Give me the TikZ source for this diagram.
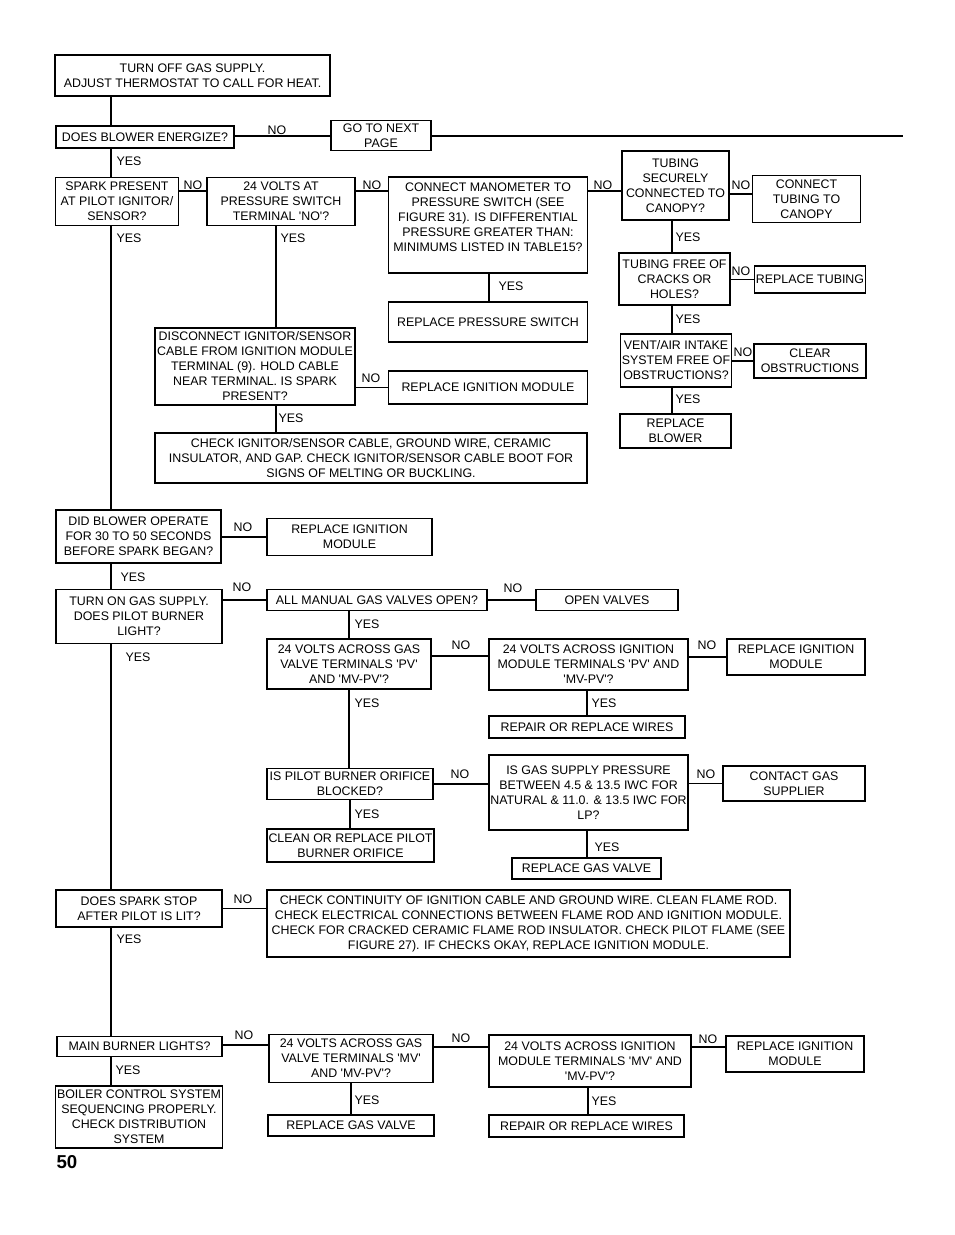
\documentclass[tikz,border=0pt]{standalone}
\usepackage{fontspec}
\setmainfont{Liberation Sans}
\newcommand{\q}{\textquotesingle}

\begin{document}
\begin{tikzpicture}[x=0.75pt,y=-0.75pt,line width=0.9pt,
	every node/.style={font=\fontsize{9.3}{11.25}\selectfont}]
	\tikzstyle{box}=[draw,align=center,inner sep=1pt];
	\tikzstyle{lab}=[inner sep=0pt];
	\tikzset{sz/.style 2 args={minimum width=#1*0.75pt,minimum height=#2*0.75pt}}

	\useasboundingbox (0,0) rectangle (954,1235);

	% boxes, top part
	\node[box,sz={275}{41}] (start)    at (192.5,75.5) {TURN OFF GAS SUPPLY.\\ ADJUST THERMOSTAT TO CALL FOR HEAT.};
	\node[box,sz={178}{22}] (blower)   at (145,137)    {DOES BLOWER ENERGIZE?};
	\node[box,sz={100}{30}] (nextpage) at (381,135.5)  {GO TO NEXT\\ PAGE};
	\node[box,sz={123}{48}] (spark)    at (117,201.5)  {SPARK PRESENT\\ AT PILOT IGNITOR/\\ SENSOR?};
	\node[box,sz={148}{48}] (psw)      at (281,201.5)  {24 VOLTS AT\\ PRESSURE SWITCH\\ TERMINAL \q NO\q ?};
	\node[box,sz={199}{96}] (mano)     at (488,225)    {CONNECT MANOMETER TO\\ PRESSURE SWITCH (SEE\\ FIGURE 31). IS DIFFERENTIAL\\ PRESSURE GREATER THAN:\\ MINIMUMS LISTED IN TABLE15?\\ \mbox{}};
	\node[box,sz={199}{40}] (replps)   at (488,322)    {REPLACE PRESSURE SWITCH};
	\node[box,sz={107}{69}] (tubing)   at (675.5,185.5) {TUBING\\ SECURELY\\ CONNECTED TO\\ CANOPY?};
	\node[box,sz={108}{47}] (conntube) at (806.5,199)  {CONNECT\\ TUBING TO\\ CANOPY};
	\node[box,sz={111}{52}] (tubefree) at (674.5,279)  {TUBING FREE OF\\ CRACKS OR\\ HOLES?};
	\node[box,sz={110}{27}] (repltube) at (810,279.5)  {REPLACE TUBING};
	\node[box,sz={111}{53}] (vent)     at (676,360.5)  {VENT/AIR INTAKE\\ SYSTEM FREE OF\\ OBSTRUCTIONS?};
	\node[box,sz={112}{34}] (clearobs) at (810,361)    {CLEAR\\ OBSTRUCTIONS};
	\node[box,sz={111}{34}] (replblow) at (675.5,431)  {REPLACE\\ BLOWER};
	\node[box,sz={200}{77}] (disc)     at (255,366.5)  {DISCONNECT IGNITOR/SENSOR\\ CABLE FROM IGNITION MODULE\\ TERMINAL (9). HOLD CABLE\\ NEAR TERMINAL. IS SPARK\\ PRESENT?};
	\node[box,sz={199}{33}] (replim1)  at (488,387.5)  {REPLACE IGNITION MODULE};
	\node[box,sz={432}{50}] (chkign)   at (371,458)    {CHECK IGNITOR/SENSOR CABLE, GROUND WIRE, CERAMIC\\ INSULATOR, AND GAP. CHECK IGNITOR/SENSOR CABLE BOOT FOR\\ SIGNS OF MELTING OR BUCKLING.};

	% boxes, middle part
	\node[box,sz={165}{53}] (didblow)  at (138.5,536.5) {DID BLOWER OPERATE\\ FOR 30 TO 50 SECONDS\\ BEFORE SPARK BEGAN?};
	\node[box,sz={165}{37}] (replim2)  at (349.5,537)  {REPLACE IGNITION\\ MODULE};
	\node[box,sz={166}{54}] (gason)    at (139,616.5)  {TURN ON GAS SUPPLY.\\ DOES PILOT BURNER\\ LIGHT?};
	\node[box,sz={220}{21}] (manual)   at (377,600)    {ALL MANUAL GAS VALVES OPEN?};
	\node[box,sz={142}{21}] (openv)    at (607,600)    {OPEN VALVES};
	\node[box,sz={164}{50}] (gvpv)     at (349,664)    {24 VOLTS ACROSS GAS\\ VALVE TERMINALS \q PV\q\\ AND \q MV-PV\q ?};
	\node[box,sz={199}{51}] (impv)     at (588.5,664.5) {24 VOLTS ACROSS IGNITION\\ MODULE TERMINALS \q PV\q{} AND\\ \q MV-PV\q ?};
	\node[box,sz={138}{36}] (replim3)  at (796,657)    {REPLACE IGNITION\\ MODULE};
	\node[box,sz={196}{22}] (wires1)   at (587,727)    {REPAIR OR REPLACE WIRES};
	\node[box,sz={166}{31}] (orif)     at (350,784)    {IS PILOT BURNER ORIFICE\\ BLOCKED?};
	\node[box,sz={199}{75}] (gasp)     at (588.5,792.5) {IS GAS SUPPLY PRESSURE\\ BETWEEN 4.5 \& 13.5 IWC FOR\\ NATURAL \& 11.0. \& 13.5 IWC FOR\\ LP?};
	\node[box,sz={142}{35}] (contact)  at (794,783.5)  {CONTACT GAS\\ SUPPLIER};
	\node[box,sz={167}{33}] (clean)    at (350.5,845.5) {CLEAN OR REPLACE PILOT\\ BURNER ORIFICE};
	\node[box,sz={149}{21}] (replgv1)  at (586.5,868.5) {REPLACE GAS VALVE};

	% boxes, bottom part
	\node[box,sz={166}{37}] (sparkstop) at (139,908.5) {DOES SPARK STOP\\ AFTER PILOT IS LIT?};
	\node[box,sz={523}{67}] (chkcont)  at (528.5,923.5) {CHECK CONTINUITY OF IGNITION CABLE AND GROUND WIRE. CLEAN FLAME ROD.\\ CHECK ELECTRICAL CONNECTIONS BETWEEN FLAME ROD AND IGNITION MODULE.\\ CHECK FOR CRACKED CERAMIC FLAME ROD INSULATOR. CHECK PILOT FLAME (SEE\\ FIGURE 27). IF CHECKS OKAY, REPLACE IGNITION MODULE.};
	\node[box,sz={165}{20}] (mainb)    at (139.5,1046.5) {MAIN BURNER LIGHTS?};
	\node[box,sz={164}{48}] (gvmv)     at (351,1058.5) {24 VOLTS ACROSS GAS\\ VALVE TERMINALS \q MV\q\\ AND \q MV-PV\q ?};
	\node[box,sz={202}{52}] (immv)     at (590,1061)   {24 VOLTS ACROSS IGNITION\\ MODULE TERMINALS \q MV\q{} AND\\ \q MV-PV\q ?};
	\node[box,sz={138}{36}] (replim4)  at (795,1054)   {REPLACE IGNITION\\ MODULE};
	\node[box,sz={164}{62}] (boiler)   at (139,1117)   {BOILER CONTROL SYSTEM\\ SEQUENCING PROPERLY.\\ CHECK DISTRIBUTION\\ SYSTEM};
	\node[box,sz={166}{21}] (replgv2)  at (351,1125.5) {REPLACE GAS VALVE};
	\node[box,sz={195}{22}] (wires2)   at (586.5,1126) {REPAIR OR REPLACE WIRES};
	\node[font=\bfseries\fontsize{14}{16}\selectfont] (pagenum) at (67,1162) {50};

	% levels of the connectors
	\coordinate (tr) at (111,0);
	\coordinate (v1) at (672,0);
	\coordinate (v2) at (489,0);
	\coordinate (v3) at (276,0);
	\coordinate (v4) at (587,0);
	\coordinate (v5) at (588,0);
	\coordinate (h1) at (0,136);
	\coordinate (h2) at (0,191);
	\coordinate (h3) at (0,194);
	\coordinate (h4) at (0,656);
	\coordinate (h5) at (0,1045);
	\coordinate (h6) at (0,1047);
	\coordinate (pg) at (903,136);

	% main line
	\draw (start.south -| tr)     -- (blower.north -| tr);
	\draw (blower.south -| tr)    -- (spark.north -| tr);
	\draw (spark.south -| tr)     -- (didblow.north -| tr);
	\draw (didblow.south -| tr)   -- (gason.north -| tr);
	\draw (gason.south -| tr)     -- (sparkstop.north -| tr);
	\draw (sparkstop.south -| tr) -- (mainb.north -| tr);
	\draw (mainb.south -| tr)     -- (boiler.north -| tr);

	% top part
	\draw (blower.east |- h1) -- (nextpage.west |- h1);
	\draw (nextpage.east |- pg) -- (pg);
	\draw (spark.east |- h2) -- (psw.west |- h2);
	\draw (psw.east |- h2) -- (mano.west |- h2);
	\draw (mano.east |- h2) -- (tubing.west |- h2);
	\draw (tubing.east |- h3) -- (conntube.west |- h3);
	\draw (tubefree.east |- repltube.west) -- (repltube.west);
	\draw (vent.east |- clearobs.west) -- (clearobs.west);
	\draw (tubing.south -| v1) -- (tubefree.north -| v1);
	\draw (tubefree.south -| v1) -- (vent.north -| v1);
	\draw (vent.south -| v1) -- (replblow.north -| v1);
	\draw (mano.south -| v2) -- (replps.north -| v2);
	\draw (psw.south -| v3) -- (disc.north -| v3);
	\draw (disc.south -| v3) -- (chkign.north -| v3);
	\draw (disc.east |- replim1.west) -- (replim1.west);

	% middle part
	\draw (didblow.east |- replim2.west) -- (replim2.west);
	\draw (gason.east |- manual.west) -- (manual.west);
	\draw (manual.east) -- (openv.west);
	\draw (manual.south -| gvpv.north) -- (gvpv.north);
	\draw (gvpv.east |- h4) -- (impv.west |- h4);
	\draw (impv.east |- replim3.west) -- (replim3.west);
	\draw (impv.south -| v4) -- (wires1.north -| v4);
	\draw (gvpv.south) -- (gvpv.south |- orif.north);
	\draw (orif.east) -- (gasp.west |- orif.east);
	\draw (gasp.east |- contact.west) -- (contact.west);
	\draw (orif.south) -- (orif.south |- clean.north);
	\draw (gasp.south -| v4) -- (replgv1.north -| v4);

	% bottom part
	\draw (sparkstop.east) -- (chkcont.west |- sparkstop.east);
	\draw (mainb.east |- h5) -- (gvmv.west |- h5);
	\draw (gvmv.east |- h6) -- (immv.west |- h6);
	\draw (immv.east |- h6) -- (replim4.west |- h6);
	\draw (gvmv.south) -- (gvmv.south |- replgv2.north);
	\draw (immv.south -| v5) -- (wires2.north -| v5);

	% labels
	\node[lab] (no1)  at (277,130)  {NO};
	\node[lab] (no2)  at (193,185)  {NO};
	\node[lab] (no3)  at (372,185)  {NO};
	\node[lab] (no4)  at (603,185)  {NO};
	\node[lab] (no5)  at (741,185)  {NO};
	\node[lab] (no6)  at (741,271)  {NO};
	\node[lab] (no7)  at (743,352)  {NO};
	\node[lab] (no8)  at (371,378)  {NO};
	\node[lab] (no9)  at (243,527)  {NO};
	\node[lab] (no10) at (242,587)  {NO};
	\node[lab] (no11) at (513,588)  {NO};
	\node[lab] (no12) at (461,645)  {NO};
	\node[lab] (no13) at (707,645)  {NO};
	\node[lab] (no14) at (460,774)  {NO};
	\node[lab] (no15) at (706,774)  {NO};
	\node[lab] (no16) at (243,899)  {NO};
	\node[lab] (no17) at (244,1035) {NO};
	\node[lab] (no18) at (461,1038) {NO};
	\node[lab] (no19) at (708,1039) {NO};
	\node[lab] (yes1)  at (129,161)  {YES};
	\node[lab] (yes2)  at (129,238)  {YES};
	\node[lab] (yes3)  at (293,238)  {YES};
	\node[lab] (yes4)  at (511,286)  {YES};
	\node[lab] (yes5)  at (688,237)  {YES};
	\node[lab] (yes6)  at (688,319)  {YES};
	\node[lab] (yes7)  at (688,399)  {YES};
	\node[lab] (yes8)  at (291,418)  {YES};
	\node[lab] (yes9)  at (133,577)  {YES};
	\node[lab] (yes10) at (367,624)  {YES};
	\node[lab] (yes11) at (138,657)  {YES};
	\node[lab] (yes12) at (367,703)  {YES};
	\node[lab] (yes13) at (604,703)  {YES};
	\node[lab] (yes14) at (367,814)  {YES};
	\node[lab] (yes15) at (607,847)  {YES};
	\node[lab] (yes16) at (129,939)  {YES};
	\node[lab] (yes17) at (128,1070) {YES};
	\node[lab] (yes18) at (367,1100) {YES};
	\node[lab] (yes19) at (604,1101) {YES};
\end{tikzpicture}
\end{document}
